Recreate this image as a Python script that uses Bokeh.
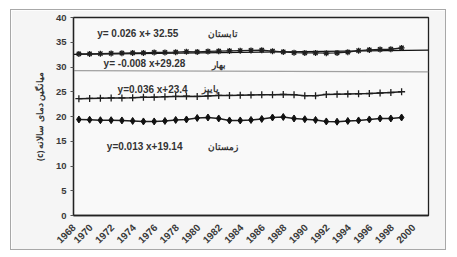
import numpy as np
from bokeh.plotting import figure
from bokeh.models import FixedTicker, Range1d
from bokeh.core.properties import value
from bokeh.embed import file_html
from bokeh.resources import INLINE

years = list(range(1968, 1999))
summer = [32.65, 32.65, 32.7, 32.75, 32.8, 32.85, 32.85, 32.95, 32.95, 33.0, 33.1, 33.05,
          33.15, 33.2, 33.25, 33.3, 33.35, 33.4, 33.2, 33.05, 32.9, 32.85, 32.85, 32.8,
          32.85, 33.0, 33.3, 33.45, 33.55, 33.6, 33.85]
autumn = [23.6, 23.65, 23.7, 23.75, 23.75, 23.8, 23.9, 23.9, 24.0, 24.05, 24.1, 24.05,
          24.15, 24.25, 24.25, 24.3, 24.35, 24.4, 24.4, 24.45, 24.4, 24.2, 24.2, 24.45,
          24.5, 24.55, 24.6, 24.65, 24.75, 24.85, 25.0]
winter = [19.4, 19.35, 19.25, 19.25, 19.2, 19.1, 19.0, 19.0, 19.1, 19.3, 19.4, 19.7,
          19.8, 19.6, 19.2, 19.2, 19.3, 19.5, 19.8, 19.9, 19.6, 19.45, 19.3, 19.0,
          18.95, 19.1, 19.2, 19.4, 19.6, 19.6, 19.8]

# trend-line coefficients (slope, intercept), x = year index starting at 1
summer_trend = (0.026, 32.55)
spring_trend = (-0.008, 29.28)

eq_texts = ["y=  0.026  x+ 32.55", "y=  -0.008 x+29.28", "y=0.036 x+23.4", "y=0.013 x+19.14"]
season_names = ["تابستان", "بهار", "پاییز", "زمستان"]
y_ticks = [0, 5, 10, 15, 20, 25, 30, 35, 40]
x_tick_years = list(range(1968, 2001, 2))

# label layout (positions)
label_shift = -0.9   # rotated labels end just left of their year
eq_x = [1969.7, 1970.3, 1971.6, 1970.6]
eq_y = [36.8, 30.8, 25.5, 13.9]
name_x = [1980.0, 1980.4, 1979.4, 1980.0]
name_y = [36.8, 30.6, 25.6, 13.9]

p = figure(width=436, height=241, output_backend="svg", toolbar_location=None,
           x_range=Range1d(1967.5, 2000.5), y_range=Range1d(0, 40),
           min_border_left=62, min_border_right=19, min_border_top=7, min_border_bottom=36,
           background_fill_color="#f9f9f9", border_fill_color="#f5f5f5")
p.styles = {"margin-left": "10px", "margin-top": "9px", "border": "1px solid #a8a8a8"}
p.outline_line_color = "#222222"
p.outline_line_width = 1.3
p.xgrid.visible = False
p.ygrid.visible = False

for ax in (p.xaxis[0], p.yaxis[0]):
    ax.axis_line_color = "#222222"
    ax.axis_line_width = 1.3
    ax.major_tick_line_color = "#555555"
    ax.minor_tick_line_color = None
    ax.major_tick_out = 3
    ax.major_tick_in = 0
    ax.major_label_text_font = "Liberation Sans"
    ax.major_label_text_font_style = "bold"
    ax.major_label_text_font_size = "9.5px"
    ax.major_label_text_color = "#3a3a3a"

p.yaxis.ticker = FixedTicker(ticks=y_ticks)
p.yaxis.major_label_standoff = 4
label_pos = [max(y + label_shift, 1967.52) for y in x_tick_years]
p.xaxis.ticker = FixedTicker(ticks=label_pos)
p.xaxis.major_label_overrides = {pos: str(y) for pos, y in zip(label_pos, x_tick_years)}
p.xaxis.major_tick_out = 0
p.xaxis.major_label_orientation = np.pi / 4
p.xaxis.major_label_standoff = 10
p.xaxis.major_label_text_font_size = "10px"
p.yaxis.axis_label = "(c) میانگین دمای سالانه"
p.yaxis.axis_label_text_font = "Noto Sans"
p.yaxis.axis_label_text_font_size = "8.5px"
p.yaxis.axis_label_text_font_style = "bold"
p.yaxis.axis_label_text_color = "#333333"
p.yaxis.axis_label_standoff = 8

# trend lines
xt = np.array([1967.5, 2000.5])
for (m, b), col in ((summer_trend, "#111111"), (spring_trend, "#a0a0a0")):
    p.line(xt, m * (xt - 1967) + b, line_color=col, line_width=1.2)

# series
p.line(years, summer, line_color="#1e1e1e", line_width=1.4)
p.scatter(years, summer, marker="asterisk", size=6, line_color="#1e1e1e", line_width=1.3)
p.line(years, autumn, line_color="#1e1e1e", line_width=1.4)
p.scatter(years, autumn, marker="cross", size=7, line_color="#1e1e1e", line_width=1.3)
p.line(years, winter, line_color="#1e1e1e", line_width=1.4)
p.scatter(years, winter, marker="diamond", size=7, fill_color="#111111", line_color="#111111")

p.text(eq_x, eq_y, text=eq_texts, text_font=value("Liberation Sans"), text_font_size="10px",
       text_font_style="bold", text_color="#333333", text_baseline="middle")
p.text(name_x, name_y, text=season_names, text_font=value("Noto Sans"), text_font_size="8.5px",
       text_font_style="bold", text_color="#333333", text_baseline="middle")

open("out.html", "w").write(file_html(p, INLINE))
